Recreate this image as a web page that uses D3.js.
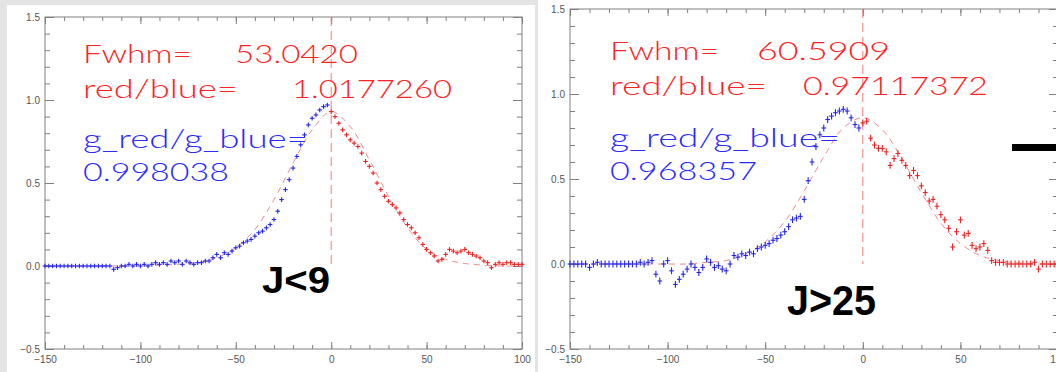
<!DOCTYPE html>
<html><head>
<meta charset="utf-8">
<script src="https://d3js.org/d3.v7.min.js"></script>
<style>
  body { margin: 0; background: #e4e4e4; }
  svg { display: block; }
  .tick text { font-family: "Liberation Sans", Arial, sans-serif; font-size: 10px; fill: #555; }
  .tick line { stroke: #808080; }
</style>
</head>
<body>
<svg id="chart" width="1056" height="372"></svg>
<script>
// x grids (velocity bins)
const xBlue = d3.range(-150, 0, 2);
const xRed = d3.range(0, 101, 2);
const xFit = d3.range(-150, 101, 10);

// left panel (J<9)
const leftBlue = [0,0,0,0,0,0,0,0,0,0,0,0,0,0,0,0,0,0,
  -0.02,-0.01,0,0,0.01,0,0.01,0,0.01,0,0.01,0.02,0.01,0.02,0.01,0.03,0.02,0.03,0.01,0.03,0.02,0.01,
  0.02,0.02,0.03,0.03,0.05,0.07,0.05,0.08,0.07,0.09,0.11,0.12,0.14,0.15,0.16,0.18,0.2,0.21,0.23,0.25,
  0.28,0.33,0.4,0.46,0.52,0.59,0.66,0.73,0.79,0.85,0.89,0.91,0.94,0.96,0.97];
const leftRed = [0.93,0.9,0.86,0.82,0.79,0.76,0.74,0.72,0.68,0.63,0.6,0.56,0.5,0.46,0.42,0.39,0.37,0.35,
  0.32,0.28,0.25,0.23,0.2,0.17,0.13,0.1,0.08,0.06,0.03,0.04,0.07,0.1,0.09,0.08,0.09,0.1,0.08,0.07,
  0.06,0.05,0.03,0.02,-0.01,0.01,0.02,0.01,0.02,0.02,0.01,0.01,0.01];
const leftFit = [0,0,0,0,0,0,0.005,0.01,0.02,0.05,0.11,0.22,0.4,0.62,0.82,0.93,0.84,0.64,0.42,0.23,
  0.1,0.04,0.015,0.005,0,0];

// right panel (J>25)
const rightBlue = [0,0,0,0,0,-0.02,0,0.01,0,0,0,0,0,0,0,0,0,0,0.01,0,
  0.01,0.02,-0.06,-0.1,0,0.02,-0.04,-0.12,-0.09,-0.06,-0.03,0,-0.02,-0.05,-0.02,0.03,0.01,-0.02,-0.01,-0.03,
  -0.04,0,0.05,0.04,0.06,0.05,0.07,0.06,0.09,0.1,0.11,0.12,0.14,0.15,0.17,0.19,0.22,0.26,0.27,0.28,
  0.38,0.49,0.6,0.69,0.76,0.8,0.85,0.87,0.89,0.9,0.91,0.9,0.86,0.82,0.8];
const rightRed = [0.83,0.84,0.74,0.7,0.68,0.68,0.66,0.58,0.62,0.65,0.61,0.58,0.52,0.55,0.52,0.46,0.42,
  0.37,0.38,0.34,0.29,0.26,0.21,0.1,0.19,0.26,0.17,0.18,0.11,0.09,0.1,0.12,0.08,0.02,0.01,0.01,0.01,
  0,0,0,0,0,0,0,0.01,-0.03,0,0,0,0,0];
const rightFit = [0,0,0,0,0,0,0,0.01,0.02,0.06,0.13,0.25,0.43,0.63,0.8,0.86,0.79,0.62,0.42,0.24,
  0.12,0.05,0.02,0.005,0,0];

// axis ticks
const xMajor = [-150, -100, -50, 0, 50, 100];
const xMinor = d3.range(-150, 101, 10);
const yMajor = [-0.5, 0, 0.5, 1.0, 1.5];
const yMinor = d3.range(-0.5, 1.51, 0.1);

const svg = d3.select("#chart");

// white page areas
svg.append("rect").attr("x", 7).attr("y", 5).attr("width", 528).attr("height", 367).attr("fill", "#fff");
svg.append("rect").attr("x", 538).attr("y", 0).attr("width", 518).attr("height", 372).attr("fill", "#fff");

function drawPanel(p) {
  const x = d3.scaleLinear().domain([-150, 100]).range([p.left, p.right]);
  const y = d3.scaleLinear().domain([-0.5, 1.5]).range([p.bottom, p.top]);
  const g = svg.append("g");

  // axes: IDL style, ticks pointing inwards on all four sides
  const bot = g.append("g").attr("transform", "translate(0," + p.bottom + ")");
  bot.call(d3.axisBottom(x).tickValues(xMinor).tickSizeInner(-4).tickSizeOuter(0).tickFormat(""));
  bot.append("g").call(d3.axisBottom(x).tickValues(xMajor).tickSizeInner(-7).tickSizeOuter(0).tickPadding(7).tickFormat(d3.format("d")));
  const top = g.append("g").attr("transform", "translate(0," + p.top + ")");
  top.call(d3.axisTop(x).tickValues(xMinor).tickSizeInner(-4).tickSizeOuter(0).tickFormat(""));
  top.append("g").call(d3.axisTop(x).tickValues(xMajor).tickSizeInner(-7).tickSizeOuter(0).tickFormat(""));
  const lft = g.append("g").attr("transform", "translate(" + p.left + ",0)");
  lft.call(d3.axisLeft(y).tickValues(yMinor).tickSizeInner(-5).tickSizeOuter(0).tickFormat(""));
  lft.append("g").call(d3.axisLeft(y).tickValues(yMajor).tickSizeInner(-9).tickSizeOuter(0).tickPadding(5).tickFormat(d3.format(".1f")));
  const rgt = g.append("g").attr("transform", "translate(" + p.right + ",0)");
  rgt.call(d3.axisRight(y).tickValues(yMinor).tickSizeInner(-5).tickSizeOuter(0).tickFormat(""));
  rgt.append("g").call(d3.axisRight(y).tickValues(yMajor).tickSizeInner(-9).tickSizeOuter(0).tickFormat(""));
  g.selectAll(".domain").remove();
  g.append("rect")
    .attr("x", p.left).attr("y", p.top)
    .attr("width", p.right - p.left).attr("height", p.bottom - p.top)
    .attr("fill", "none").attr("stroke", "#808080");

  // gaussian fit and centre line
  g.append("path")
    .datum(xFit.map((v, i) => [v, p.fit[i]]))
    .attr("d", d3.line().x(d => x(d[0])).y(d => y(d[1])).curve(d3.curveCatmullRom))
    .attr("fill", "none").attr("stroke", "#f08a8a").attr("stroke-width", 1)
    .attr("stroke-dasharray", "6,5");
  g.append("line")
    .attr("x1", x(0)).attr("x2", x(0)).attr("y1", y(1.5)).attr("y2", y(0))
    .attr("stroke", "#f07a7a").attr("stroke-dasharray", "9,5");

  // data points with error bars
  function marks(xs, vals, color) {
    const pts = g.append("g").attr("stroke", color).attr("stroke-width", 1.1);
    pts.selectAll("line.h").data(xs).join("line").attr("class", "h")
      .attr("x1", d => x(d - 1.2)).attr("x2", d => x(d + 1.2))
      .attr("y1", (d, i) => y(vals[i])).attr("y2", (d, i) => y(vals[i]));
    pts.selectAll("line.v").data(xs).join("line").attr("class", "v")
      .attr("x1", d => x(d)).attr("x2", d => x(d))
      .attr("y1", (d, i) => y(vals[i] - p.err)).attr("y2", (d, i) => y(vals[i] + p.err));
  }
  marks(xBlue, p.blue, "#2424f0");
  marks(xRed, p.red, "#ee2020");

  // annotations
  function txt(s, x0, x1, yb, color, size) {
    svg.append("text").text(s)
      .attr("x", x0).attr("y", yb)
      .attr("textLength", x1 - x0).attr("lengthAdjust", "spacingAndGlyphs")
      .attr("font-family", "Lato, 'Open Sans', sans-serif").attr("font-weight", 300)
      .attr("font-size", size).attr("fill", color);
  }
  p.labels.forEach(l => txt(l[0], l[1], l[2], l[3], l[4], 26));
  svg.append("text").text(p.tag)
    .attr("x", p.tagPos[0]).attr("y", p.tagPos[1])
    .attr("textLength", p.tagPos[2]).attr("lengthAdjust", "spacingAndGlyphs")
    .attr("font-family", "'Liberation Sans', Arial, sans-serif")
    .attr("font-weight", "bold").attr("font-size", p.tagPos[3]).attr("fill", "#000");
}

const red = "#ff2222", blue = "#2a2aff";

drawPanel({
  left: 45, right: 522, top: 17, bottom: 349, err: 0.014,
  blue: leftBlue, red: leftRed, fit: leftFit,
  labels: [["Fwhm=", 83, 192, 63, red], ["53.0420", 235, 358, 63, red],
           ["red/blue=", 83, 238, 98, red], ["1.0177260", 292, 452, 98, red],
           ["g_red/g_blue=", 83, 308, 148, blue], ["0.998038", 83, 229, 181, blue]],
  tag: "J<9", tagPos: [262, 293, 68, 36]
});

drawPanel({
  left: 570, right: 1058, top: 9, bottom: 349, err: 0.02,
  blue: rightBlue, red: rightRed, fit: rightFit,
  labels: [["Fwhm=", 610, 719, 60, red], ["60.5909", 757, 890, 60, red],
           ["red/blue=", 610, 767, 95, red], ["0.97117372", 803, 988, 95, red],
           ["g_red/g_blue=", 610, 840, 147, blue], ["0.968357", 610, 757, 180, blue]],
  tag: "J>25", tagPos: [787, 315, 89, 43]
});

// black bar at the right edge
svg.append("rect").attr("x", 1012).attr("y", 144).attr("width", 44).attr("height", 7).attr("fill", "#000");
</script>
</body>
</html>
